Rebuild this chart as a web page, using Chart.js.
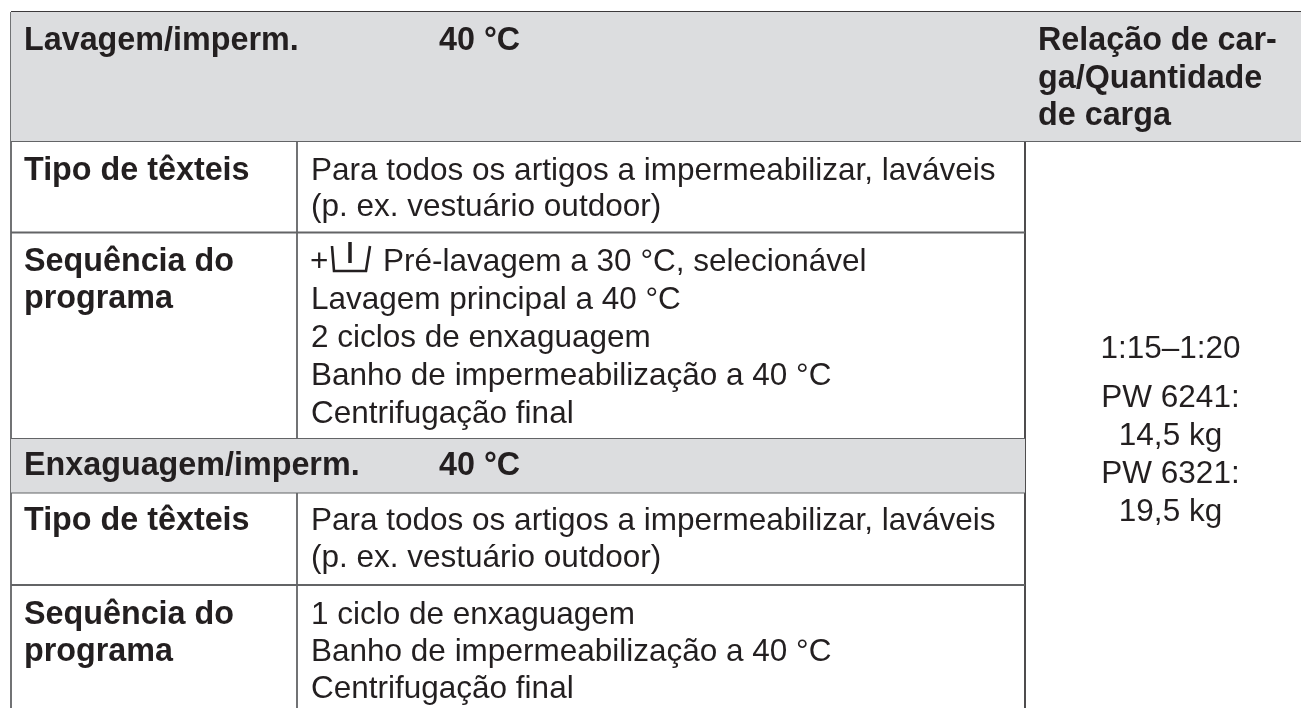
<!DOCTYPE html>
<html>
<head>
<meta charset="utf-8">
<title>Lavagem/imperm.</title>
<script src="https://cdn.jsdelivr.net/npm/chart.js@4/dist/chart.umd.min.js"></script>
<style>
  html, body { margin: 0; padding: 0; background: #fff; }
  #box { position: relative; width: 1301px; height: 708px; }
</style>
</head>
<body>
<div id="box"><canvas id="chart"></canvas></div>
<script>
// table grid, in the page's own units
const tableLeft = 11;
const tableRight = 1301;
const tableBottom = 708;
const colFirst = 297;
const colLast = 1025;
const rowTop = 12;
const rowHead = 141;
const rowType1 = 232.5;
const rowSeq1 = 439;
const rowHead2 = 492.5;
const rowType2 = 585;

// shaded header bands [x0, x1, y0, y1]
const bands = [
  [tableLeft, tableRight, rowTop, rowHead],
  [tableLeft, colLast, rowSeq1, rowHead2]
];

// rules [x0, y0, x1, y1]
const darkRules = [
  [tableLeft, rowTop, tableRight, rowTop],
  [colLast, rowHead, colLast, tableBottom]
];
const greyRules = [
  [tableLeft, rowTop, tableLeft, tableBottom],
  [colFirst, rowHead, colFirst, rowSeq1],
  [colFirst, rowHead2, colFirst, tableBottom],
  [tableLeft, rowHead, tableRight, rowHead],
  [tableLeft, rowType1, colLast, rowType1],
  [tableLeft, rowSeq1, colLast, rowSeq1],
  [tableLeft, rowHead2, colLast, rowHead2],
  [tableLeft, rowType2, colLast, rowType2]
];

// the pre-wash symbol
const tubOutline = [[332, 246], [334, 271], [366, 271], [370, 246]];
const tubBar = [[350, 242], [350, 263]];

// cell text [string, x, baseline]
const boldText = [
  ['Lavagem/imperm.', 24, 50],
  ['40 °C', 439, 50],
  ['Relação de car-', 1038, 50],
  ['ga/Quantidade', 1038, 88],
  ['de carga', 1038, 125],
  ['Tipo de têxteis', 24, 180],
  ['Sequência do', 24, 271],
  ['programa', 24, 308],
  ['Enxaguagem/imperm.', 24, 475],
  ['40 °C', 439, 475],
  ['Tipo de têxteis', 24, 530],
  ['Sequência do', 24, 624],
  ['programa', 24, 661]
];
const bodyText = [
  ['Para todos os artigos a impermeabilizar, laváveis', 311, 180],
  ['(p. ex. vestuário outdoor)', 311, 216],
  ['+', 310, 271],
  ['Pré-lavagem a 30 °C, selecionável', 383, 271],
  ['Lavagem principal a 40 °C', 311, 309],
  ['2 ciclos de enxaguagem', 311, 347],
  ['Banho de impermeabilização a 40 °C', 311, 385],
  ['Centrifugação final', 311, 423],
  ['Para todos os artigos a impermeabilizar, laváveis', 311, 530],
  ['(p. ex. vestuário outdoor)', 311, 567],
  ['1 ciclo de enxaguagem', 311, 624],
  ['Banho de impermeabilização a 40 °C', 311, 661],
  ['Centrifugação final', 311, 698]
];
const centerText = [
  ['1:15–1:20', 1170.5, 358],
  ['PW 6241:', 1170.5, 407],
  ['14,5 kg', 1170.5, 445],
  ['PW 6321:', 1170.5, 483],
  ['19,5 kg', 1170.5, 521]
];

const inkColor = '#231f20';
const bandColor = '#dcdddf';
const fontName = '"Liberation Sans", Arial, sans-serif';

function toPoints(list) {
  return list.map(p => ({ x: p[0], y: p[1] }));
}

const datasets = [];
bands.forEach(b => {
  datasets.push({
    data: [{ x: b[0], y: b[2] }, { x: b[1], y: b[2] }],
    borderWidth: 0,
    pointRadius: 0,
    fill: { value: b[3] },
    backgroundColor: bandColor
  });
});
greyRules.forEach(r => {
  datasets.push({ data: toPoints([[r[0], r[1]], [r[2], r[3]]]), borderColor: '#636466', borderWidth: 1.8, pointRadius: 0 });
});
darkRules.forEach(r => {
  datasets.push({ data: toPoints([[r[0], r[1]], [r[2], r[3]]]), borderColor: '#3c3a3b', borderWidth: 1.8, pointRadius: 0 });
});
datasets.push({ data: toPoints(tubOutline), borderColor: inkColor, borderWidth: 2.6, pointRadius: 0 });
datasets.push({ data: toPoints(tubBar), borderColor: inkColor, borderWidth: 3.5, pointRadius: 0 });

const cellText = {
  id: 'cellText',
  afterDatasetsDraw(chart) {
    const c = chart.ctx;
    const x = chart.scales.x;
    const y = chart.scales.y;
    const put = (list, font, align) => {
      c.font = font;
      c.textAlign = align;
      list.forEach(t => c.fillText(t[0], x.getPixelForValue(t[1]), y.getPixelForValue(t[2])));
    };
    c.save();
    c.fillStyle = inkColor;
    c.textBaseline = 'alphabetic';
    put(boldText, 'bold 32.3px ' + fontName, 'left');
    put(bodyText, '31.5px ' + fontName, 'left');
    put(centerText, '31.5px ' + fontName, 'center');
    c.restore();
  }
};

new Chart(document.getElementById('chart'), {
  type: 'scatter',
  data: { datasets: datasets },
  plugins: [cellText],
  options: {
    responsive: true,
    maintainAspectRatio: false,
    animation: false,
    showLine: true,
    layout: { padding: 0 },
    plugins: { legend: { display: false }, tooltip: { enabled: false } },
    scales: {
      x: { type: 'linear', display: false, min: 0, max: 1301 },
      y: { type: 'linear', display: false, min: 0, max: 708, reverse: true }
    }
  }
});
</script>
</body>
</html>
